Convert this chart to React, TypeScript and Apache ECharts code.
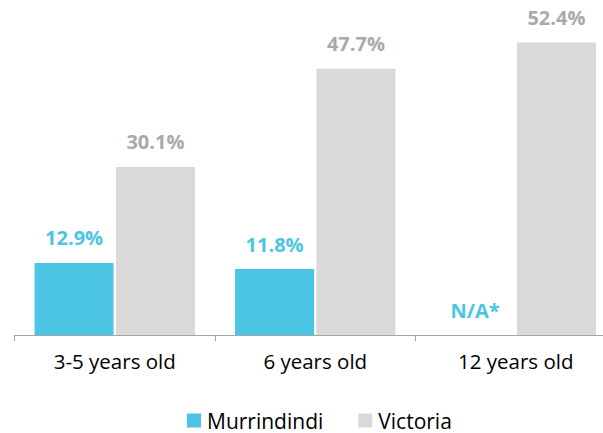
import React, { useEffect, useRef } from "react";
import * as echarts from "echarts";

const categories = ["3-5 years old", "6 years old", "12 years old"];
const murrindindi = [12.9, 11.8, 0];
const victoria = [30.1, 47.7, 52.4];
const missingLabel = "N/A*";

const TEAL = "#4BC5E3";
const GREY = "#D9D9D9";
const GREY_TEXT = "#A9A9A9";
const FONT = "'Open Sans', sans-serif";

export default function App() {
  const ref = useRef<HTMLDivElement>(null);
  useEffect(() => {
    if (!ref.current) return;
    const chart = echarts.init(ref.current, null, { renderer: "svg" });
    chart.setOption({
      animation: false,
      textStyle: { fontFamily: FONT },
      grid: { left: 14.5, right: 4, top: 0, bottom: 98, containLabel: false },
      legend: {
        left: 187,
        top: 409,
        itemWidth: 14,
        itemHeight: 14,
        itemGap: 35,
        icon: "rect",
        padding: 0,
        textStyle: { fontSize: 21, lineHeight: 23, color: "#000", fontFamily: FONT, padding: [0, 0, 0, 1] },
        data: ["Murrindindi", "Victoria"],
      },
      xAxis: {
        type: "category",
        data: categories,
        axisLine: { lineStyle: { color: "#A6A6A6", width: 1 } },
        axisTick: { show: true, length: 6, lineStyle: { color: "#A6A6A6" } },
        axisLabel: { fontSize: 20.5, color: "#000", margin: 15, fontFamily: FONT },
      },
      yAxis: {
        type: "value",
        min: 0,
        max: 60,
        show: false,
        splitLine: { show: false },
      },
      series: [
        {
          name: "Murrindindi",
          type: "bar",
          data: murrindindi,
          barWidth: "39.4%",
          barGap: "3%",
          itemStyle: { color: TEAL },
          label: {
            show: true,
            position: "top",
            distance: 15,
            fontSize: 20,
            fontWeight: "bold",
            color: TEAL,
            fontFamily: FONT,
            formatter: (p: any) => (p.value === 0 ? missingLabel : p.value.toFixed(1) + "%"),
          },
        },
        {
          name: "Victoria",
          type: "bar",
          data: victoria,
          barWidth: "39.4%",
          barGap: "3%",
          itemStyle: { color: GREY },
          label: {
            show: true,
            position: "top",
            distance: 15,
            fontSize: 20,
            fontWeight: "bold",
            color: GREY_TEXT,
            fontFamily: FONT,
            formatter: (p: any) => p.value.toFixed(1) + "%",
          },
        },
      ],
    });
    return () => chart.dispose();
  }, []);
  return (
    <div style={{ width: 603, height: 433, position: "absolute", left: 0, top: 0, overflow: "hidden" }}>
      <div ref={ref} style={{ width: 620, height: 433 }} />
    </div>
  );
}
